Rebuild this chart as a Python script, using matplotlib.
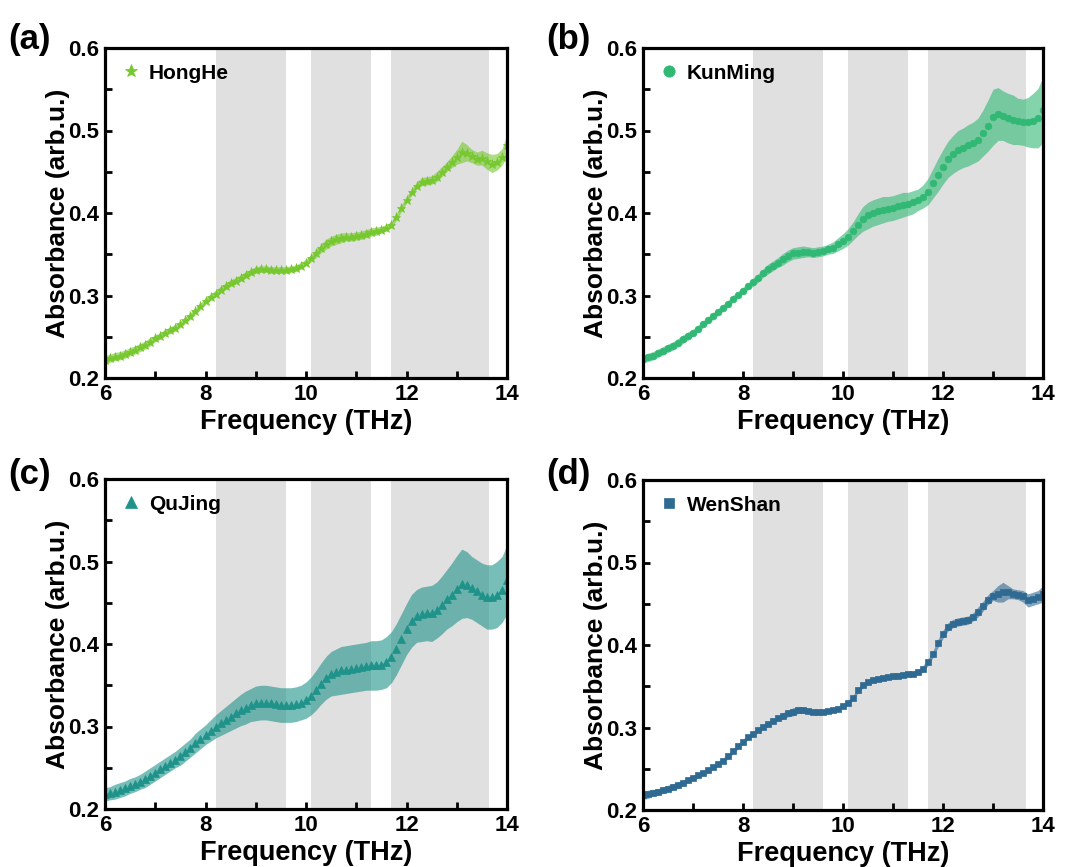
import numpy as np
import matplotlib
matplotlib.use("Agg")
import matplotlib.pyplot as plt
from matplotlib.ticker import MultipleLocator, FormatStrFormatter

plt.rcParams['font.family'] = ['Liberation Sans', 'DejaVu Sans']
plt.rcParams['font.weight'] = 'bold'

freq = np.round(np.arange(6.0, 14.0001, 0.1), 1)

honghe = [0.222,0.224,0.226,0.227,0.229,0.232,0.234,0.237,0.240,0.244,
          0.248,0.251,0.255,0.258,0.261,0.265,0.270,0.275,0.281,0.287,
          0.293,0.298,0.302,0.307,0.311,0.315,0.318,0.321,0.325,0.328,
          0.331,0.332,0.332,0.331,0.331,0.331,0.331,0.332,0.333,0.336,
          0.340,0.345,0.351,0.357,0.362,0.366,0.368,0.370,0.371,0.371,
          0.372,0.373,0.375,0.377,0.378,0.380,0.382,0.386,0.395,0.406,
          0.416,0.425,0.433,0.438,0.439,0.440,0.444,0.450,0.456,0.462,
          0.468,0.474,0.473,0.469,0.466,0.467,0.463,0.460,0.462,0.468,
          0.482]
honghe_err = [0.005]*10 + [0.004]*10 + [0.004]*10 + [0.004]*10 + \
    [0.004,0.004,0.005,0.005,0.006,0.006,0.006,0.006,0.005,0.005,
     0.005,0.005,0.005,0.005,0.005,0.004,0.004,0.004,0.004,0.004,
     0.004,0.004,0.004,0.005,0.005,0.005,0.006,0.006,0.006,0.007,
     0.009,0.013,0.010,0.008,0.008,0.009,0.010,0.011,0.010,0.010,
     0.013]

kunming = [0.223,0.225,0.227,0.230,0.233,0.236,0.239,0.243,0.247,0.251,
           0.255,0.260,0.265,0.270,0.275,0.280,0.285,0.290,0.296,0.301,
           0.306,0.311,0.316,0.321,0.327,0.332,0.336,0.340,0.344,0.348,
           0.351,0.352,0.353,0.353,0.352,0.353,0.354,0.356,0.358,0.362,
           0.366,0.371,0.378,0.386,0.393,0.397,0.400,0.402,0.404,0.405,
           0.406,0.408,0.410,0.411,0.413,0.416,0.420,0.426,0.436,0.446,
           0.456,0.465,0.471,0.476,0.479,0.482,0.485,0.489,0.497,0.506,
           0.516,0.520,0.518,0.515,0.513,0.511,0.510,0.510,0.512,0.515,
           0.525]
kunming_err = [0.005]*10 + [0.004]*10 + \
    [0.004,0.004,0.005,0.005,0.005,0.006,0.006,0.006,0.007,0.007,
     0.007,0.007,0.007,0.006,0.006,0.006,0.006,0.006,0.007,0.008,
     0.009,0.010,0.011,0.013,0.015,0.016,0.016,0.016,0.016,0.015,
     0.015,0.015,0.015,0.014,0.014,0.013,0.014,0.016,0.018,0.020,
     0.021,0.022,0.023,0.024,0.024,0.025,0.025,0.026,0.028,0.031,
     0.034,0.032,0.030,0.030,0.030,0.028,0.028,0.030,0.033,0.036,
     0.040]

qujing = [0.218,0.219,0.221,0.223,0.225,0.228,0.230,0.233,0.236,0.240,
          0.244,0.248,0.252,0.256,0.260,0.264,0.269,0.274,0.280,0.285,
          0.290,0.295,0.300,0.304,0.308,0.312,0.316,0.320,0.323,0.326,
          0.328,0.329,0.329,0.328,0.327,0.326,0.326,0.326,0.327,0.329,
          0.332,0.337,0.344,0.352,0.359,0.364,0.366,0.368,0.369,0.370,
          0.371,0.372,0.373,0.374,0.374,0.375,0.378,0.384,0.394,0.406,
          0.418,0.428,0.434,0.436,0.437,0.437,0.441,0.447,0.454,0.460,
          0.467,0.473,0.472,0.468,0.464,0.460,0.457,0.457,0.460,0.466,
          0.478]
qujing_err = [0.008,0.008,0.009,0.009,0.009,0.009,0.009,0.009,0.010,0.010,
              0.010,0.010,0.010,0.010,0.010,0.011,0.011,0.011,0.012,0.012,
              0.012,0.013,0.014,0.015,0.016,0.017,0.018,0.019,0.020,0.020,
              0.021,0.021,0.021,0.021,0.021,0.021,0.021,0.021,0.021,0.021,
              0.022,0.023,0.024,0.025,0.026,0.027,0.028,0.029,0.029,0.029,
              0.029,0.029,0.029,0.030,0.030,0.030,0.031,0.031,0.031,0.031,
              0.031,0.032,0.032,0.033,0.033,0.034,0.034,0.035,0.036,0.038,
              0.040,0.042,0.040,0.038,0.038,0.038,0.039,0.039,0.040,0.040,
              0.042]

wenshan = [0.218,0.219,0.221,0.222,0.224,0.226,0.228,0.230,0.233,0.236,
           0.239,0.242,0.245,0.248,0.252,0.256,0.260,0.265,0.271,0.277,
           0.283,0.288,0.292,0.297,0.301,0.304,0.308,0.311,0.314,0.317,
           0.319,0.321,0.321,0.320,0.319,0.319,0.319,0.320,0.321,0.323,
           0.326,0.330,0.336,0.345,0.351,0.355,0.357,0.359,0.360,0.361,
           0.362,0.363,0.364,0.365,0.365,0.367,0.371,0.379,0.389,0.402,
           0.413,0.422,0.426,0.428,0.429,0.430,0.434,0.440,0.447,0.455,
           0.460,0.462,0.464,0.464,0.462,0.461,0.459,0.454,0.456,0.458,
           0.462]
wenshan_err = [0.005,0.005,0.004,0.004,0.004,0.004,0.004,0.004,0.003,0.003] + [0.003]*10 + \
    [0.003,0.003,0.003,0.003,0.003,0.003,0.003,0.003,0.004,0.004,
     0.005,0.004,0.004,0.003,0.003,0.003,0.003,0.003,0.003,0.003] + [0.003]*10 + \
    [0.003]*6 + [0.004,0.004,0.004,0.005] + \
    [0.005,0.005,0.005,0.005,0.005,0.005,0.005,0.006,0.006,0.006,
     0.006,0.010,0.012,0.008,0.006,0.006,0.007,0.008,0.008,0.008,
     0.010]

shade_bands = [(8.2, 9.6), (10.1, 11.3), (11.7, 13.65)]

panels = [
    ("(a)", "HongHe", honghe, honghe_err, "#76c82e", "*", 6.5),
    ("(b)", "KunMing", kunming, kunming_err, "#30b874", "o", 4.8),
    ("(c)", "QuJing", qujing, qujing_err, "#1f938a", "^", 5.5),
    ("(d)", "WenShan", wenshan, wenshan_err, "#2f6a93", "s", 4.5),
]

W, H = 1070, 867
fig = plt.figure(figsize=(W/100, H/100), dpi=100)

boxes = [(105, 48, 507, 378), (643, 48, 1043, 378),
         (105, 479, 507, 809), (643, 480, 1043, 810)]
labpos = [(8, 40), (546, 40), (8, 474), (546, 474)]

for (lab, name, mean, err, col, mk, ms), (x0, y0, x1, y1), (lx, ly) in zip(panels, boxes, labpos):
    ax = fig.add_axes([x0/W, 1-y1/H, (x1-x0)/W, (y1-y0)/H])
    for a, b in shade_bands:
        ax.axvspan(a, b, color="#e0e0e0", lw=0, zorder=0)
    m = np.array(mean); e = np.array(err)
    ax.fill_between(freq, m-e, m+e, color=col, alpha=0.6, lw=0, zorder=1)
    ax.plot(freq, m, ls="none", marker=mk, ms=ms, color=col, mec=col, mew=0.5, zorder=2, label=name)
    ax.set_xlim(6, 14)
    ax.set_ylim(0.2, 0.6)
    ax.xaxis.set_major_locator(MultipleLocator(2))
    ax.xaxis.set_minor_locator(MultipleLocator(1))
    ax.yaxis.set_major_locator(MultipleLocator(0.1))
    ax.yaxis.set_minor_locator(MultipleLocator(0.05))
    ax.yaxis.set_major_formatter(FormatStrFormatter("%.1f"))
    ax.tick_params(which="both", direction="in", width=2, length=5, labelsize=16, pad=4)
    for lbl in ax.get_xticklabels() + ax.get_yticklabels():
        lbl.set_fontweight("bold")
    for s in ax.spines.values():
        s.set_linewidth(2.3)
    ax.set_xlabel("Frequency (THz)", fontsize=19.5, fontweight="bold", labelpad=3)
    ax.set_ylabel("Absorbance (arb.u.)", fontsize=19, fontweight="bold", labelpad=-1)
    ax.legend(loc="upper left", frameon=False, handletextpad=0.35,
              borderaxespad=0.35, handlelength=1.0,
              markerscale=1.7 if mk != "*" else 1.5,
              prop={"weight": "bold", "size": 15})
    fig.text(lx/W, 1-ly/H, lab, fontsize=25, fontweight="bold", va="center", ha="left")

fig.savefig("out.png", dpi=100)
